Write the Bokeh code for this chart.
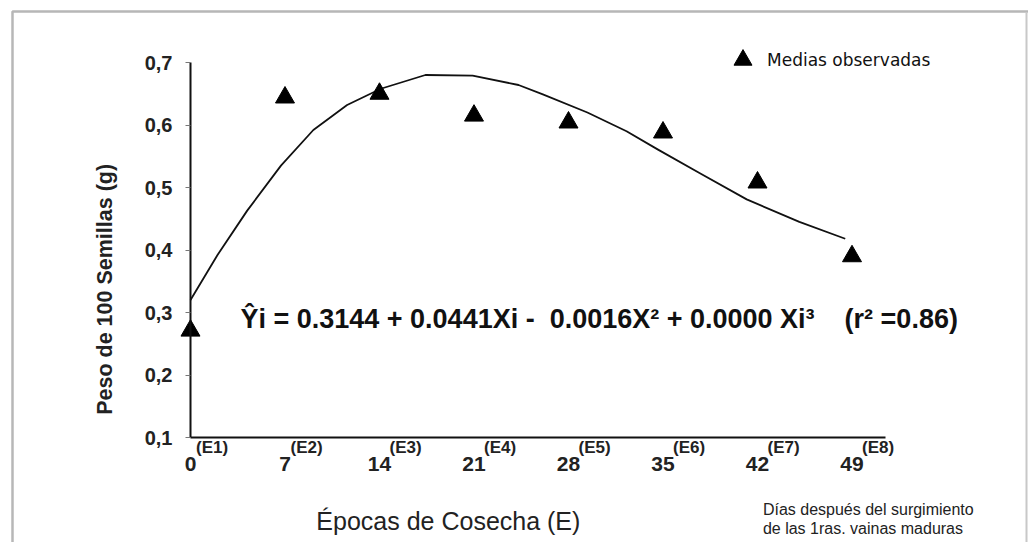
from bokeh.plotting import figure
from bokeh.models import (BoxAnnotation, Label, LabelSet, Legend, LegendItem,
                          ColumnDataSource, FixedTicker, Range1d)
from bokeh.core.properties import value
from bokeh.embed import file_html
from bokeh.resources import INLINE
import math

# ---- data ----
x_days = [0, 7, 14, 21, 28, 35, 42, 49]
y_obs = [0.271, 0.644, 0.650, 0.615, 0.604, 0.588, 0.508, 0.390]
x_tick_labels = ["0", "7", "14", "21", "28", "35", "42", "49"]
epoch_labels = ["(E1)", "(E2)", "(E3)", "(E4)", "(E5)", "(E6)", "(E7)", "(E8)"]
curve_x = [0, 2.0, 4.2, 6.7, 9.1, 11.6, 14.1, 17.4, 20.9, 24.3, 26.1, 29.4,
           32.3, 34.6, 37.8, 41.2, 45.1, 48.5]
curve_y = [0.320, 0.392, 0.463, 0.535, 0.592, 0.632, 0.658, 0.680, 0.679, 0.664,
           0.649, 0.620, 0.590, 0.561, 0.522, 0.481, 0.445, 0.418]
y_ticks = [0.1, 0.2, 0.3, 0.4, 0.5, 0.6, 0.7]
y_tick_labels = ["0,1", "0,2", "0,3", "0,4", "0,5", "0,6", "0,7"]
NB = "\u00a0"
equation = ("\u0176i = 0.3144 + 0.0441Xi -" + NB + " 0.0016X\u00b2 + 0.0000 Xi\u00b3"
            + NB * 3 + " (r\u00b2 =0.86)")
y_title = "Peso de 100 Semillas (g)"
x_title = "\u00c9pocas de Cosecha (E)"
note_lines = ["D\u00edas despu\u00e9s del surgimiento", "de las 1ras. vainas maduras"]
legend_label = "Medias observadas"

FONT = "Liberation Sans"

# frame covers the whole canvas; axes are placed with fixed_location
p = figure(width=1028, height=542, output_backend="svg", toolbar_location=None,
           x_range=Range1d(-14.074, 62.074), y_range=Range1d(-0.068, 0.7992),
           min_border=0, min_border_left=0, min_border_right=0,
           min_border_top=0, min_border_bottom=0, outline_line_color=None,
           background_fill_color="white", border_fill_color="white")
p.grid.visible = False

# y axis
ya = p.yaxis[0]
ya.fixed_location = 0
ya.bounds = (0.1, 0.7)
ya.ticker = FixedTicker(ticks=y_ticks)
ya.major_label_overrides = {t: l for t, l in zip(y_ticks, y_tick_labels)}
ya.minor_tick_line_color = None
ya.major_tick_out = 5
ya.major_tick_in = 0
ya.major_tick_line_color = "#777777"
ya.axis_line_width = 2
ya.axis_line_color = "#111111"
ya.major_label_standoff = 13
ya.major_label_text_font = FONT
ya.major_label_text_font_style = "bold"
ya.major_label_text_font_size = "20px"
ya.major_label_text_color = "#222222"

# x axis
xa = p.xaxis[0]
xa.fixed_location = 0.1
xa.bounds = (0, 51.5)
xa.ticker = FixedTicker(ticks=x_days)
xa.major_tick_line_color = None
xa.minor_tick_line_color = None
xa.major_label_text_color = None
xa.major_label_text_font_size = "1px"
xa.axis_line_width = 2.2
xa.axis_line_color = "#111111"

# fitted curve
p.line(curve_x, curve_y, line_color="#111111", line_width=1.8,
       line_join="round")

# observed means
r = p.scatter(x_days, y_obs, marker="triangle", size=19, color="#000000")

# x tick labels with superscripts
num_offsets = [4.5 * len(s) + 1 for s in x_tick_labels]
src = ColumnDataSource(dict(x=x_days, y=[0.1] * len(x_days), num=x_tick_labels,
                            ep=epoch_labels, off=num_offsets))
p.add_layout(LabelSet(x="x", y="y", text="num", source=src, y_offset=-26,
                      text_align="center", text_baseline="middle",
                      text_font=value(FONT), text_font_style="bold",
                      text_font_size="21px", text_color="#222222"))
p.add_layout(LabelSet(x="x", y="y", text="ep", source=src, x_offset="off",
                      y_offset=-10, text_align="left", text_baseline="middle",
                      text_font=value(FONT), text_font_style="bold",
                      text_font_size="17px", text_color="#222222"))

# equation
p.add_layout(Label(x=3.7, y=0.290, text=equation, text_font=FONT,
                   text_font_style="bold", text_font_size="27px",
                   text_baseline="middle", text_color="#111111"))

# axis titles
p.add_layout(Label(x=-6.3, y=0.337, text=y_title, angle=math.pi / 2,
                   text_align="center", text_baseline="middle", text_font=FONT,
                   text_font_style="bold", text_font_size="21.5px",
                   text_color="#222222"))
p.add_layout(Label(x=19.1, y=-0.033, text=x_title, text_align="center",
                   text_baseline="middle", text_font=FONT,
                   text_font_size="25px", text_color="#222222"))
note_y = [-0.0152, -0.0456]
for line, ny in zip(note_lines, note_y):
    p.add_layout(Label(x=42.4, y=ny, text=line, text_align="left",
                       text_baseline="middle", text_font=FONT,
                       text_font_size="16px", text_color="#222222"))

# legend
legend = Legend(items=[LegendItem(label=legend_label, renderers=[r])],
                location=(720, 460), padding=0, margin=0, spacing=0,
                glyph_width=45, glyph_height=45, label_standoff=2,
                border_line_color=None, background_fill_alpha=0,
                label_text_font="DejaVu Sans", label_text_font_size="17px",
                label_text_color="#111111")
p.add_layout(legend)

# outer frame (dark top/left, faint right edge)
p.add_layout(BoxAnnotation(left=12, right=1060, top=11, bottom=600,
                           left_units="canvas", right_units="canvas",
                           top_units="canvas", bottom_units="canvas",
                           fill_alpha=0, line_color="#111111", line_width=2.5,
                           level="overlay"))
p.add_layout(BoxAnnotation(left=1025, right=1027, top=12, bottom=600,
                           left_units="canvas", right_units="canvas",
                           top_units="canvas", bottom_units="canvas",
                           fill_color="#c8c8c8", fill_alpha=1, line_color=None,
                           level="overlay"))

open("out.html", "w").write(file_html(p, INLINE))
